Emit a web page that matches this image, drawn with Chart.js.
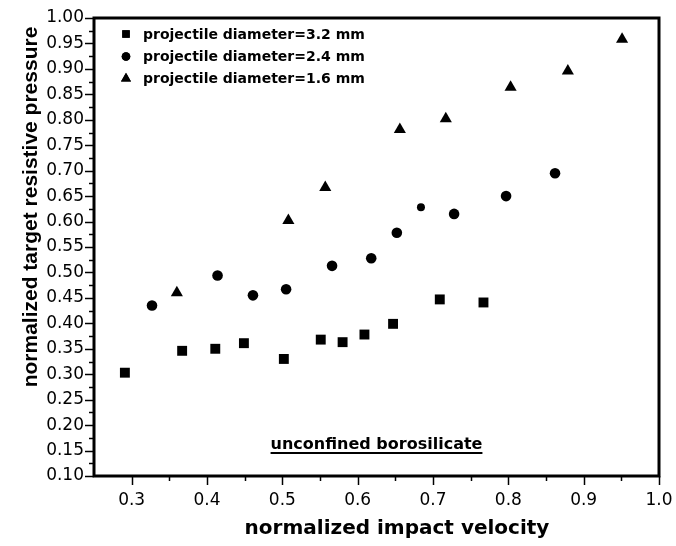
<!DOCTYPE html>
<html><head><meta charset="utf-8">
<script src="https://cdn.jsdelivr.net/npm/chart.js@4/dist/chart.umd.min.js"></script>
<style>html,body{margin:0;padding:0;background:#fff;}canvas{display:block;}</style>
</head><body>
<canvas id="c" width="676" height="546"></canvas>
<script>
// ---- data ----
const seriesLabels = ['projectile diameter=3.2 mm', 'projectile diameter=2.4 mm', 'projectile diameter=1.6 mm'];
const d32X = [0.291, 0.367, 0.411, 0.449, 0.502, 0.551, 0.580, 0.609, 0.647, 0.709, 0.767];
const d32Y = [0.303, 0.346, 0.350, 0.361, 0.330, 0.368, 0.363, 0.378, 0.399, 0.447, 0.441];
const d24X = [0.327, 0.414, 0.461, 0.505, 0.566, 0.618, 0.652, 0.684, 0.728, 0.797, 0.862];
const d24Y = [0.435, 0.494, 0.455, 0.467, 0.513, 0.528, 0.578, 0.628, 0.615, 0.650, 0.695];
const d16X = [0.360, 0.508, 0.557, 0.656, 0.717, 0.803, 0.879, 0.951];
const d16Y = [0.460, 0.602, 0.667, 0.781, 0.802, 0.864, 0.896, 0.958];
const xAxisTitle = 'normalized impact velocity';
const yAxisTitle = 'normalized target resistive pressure';
const annotationText = 'unconfined borosilicate';
const xMin = 0.25, xMax = 1.0, xStep = 0.05;
const yMin = 0.10, yMax = 1.00, yStep = 0.05;

const toPts = (xs, ys) => xs.map((x, i) => ({x: x, y: ys[i]}));

const TICK_FONT = {family: '"DejaVu Sans"', size: 17};

const decor = {
  id: 'decor',
  afterDraw(chart) {
    const ctx = chart.ctx;
    const a = chart.chartArea;
    const xs = chart.scales.x, ys = chart.scales.y;
    ctx.save();
    ctx.strokeStyle = '#000';
    ctx.fillStyle = '#000';
    // frame
    ctx.lineWidth = 3;
    ctx.strokeRect(a.left, a.top, a.right - a.left, a.bottom - a.top);
    // x ticks
    ctx.lineWidth = 1.5;
    xs.ticks.forEach(t => {
      const v = t.value;
      if (Math.abs(v - xMin) < 1e-9) return;
      const major = Math.abs(v * 10 - Math.round(v * 10)) < 1e-6;
      const p = Math.round(xs.getPixelForValue(v)) + 0.5;
      ctx.beginPath();
      ctx.moveTo(p, a.bottom);
      ctx.lineTo(p, a.bottom + (major ? 9 : 5));
      ctx.stroke();
    });
    // y ticks (major at labels, minor half-way)
    const yt = ys.ticks.map(t => t.value);
    yt.forEach((v, i) => {
      const p = Math.round(ys.getPixelForValue(v)) + 0.5;
      ctx.beginPath();
      ctx.moveTo(a.left, p);
      ctx.lineTo(a.left - 9, p);
      ctx.stroke();
      if (i < yt.length - 1) {
        const m = Math.round(ys.getPixelForValue((v + yt[i + 1]) / 2)) + 0.5;
        ctx.beginPath();
        ctx.moveTo(a.left, m);
        ctx.lineTo(a.left - 5, m);
        ctx.stroke();
      }
    });
    // axis titles
    ctx.font = 'bold 20px "DejaVu Sans"';
    ctx.textAlign = 'center';
    ctx.textBaseline = 'alphabetic';
    ctx.fillText(xAxisTitle, 397, 534);
    ctx.save();
    ctx.translate(37, 207);
    ctx.rotate(-Math.PI / 2);
    ctx.font = 'bold 21px "Liberation Sans"';
    ctx.fillText(yAxisTitle, 0, 0);
    ctx.restore();
    // annotation with underline
    ctx.font = 'bold 16px "DejaVu Sans"';
    const cx = (a.left + a.right) / 2;
    ctx.fillText(annotationText, cx, 449);
    const w = ctx.measureText(annotationText).width;
    ctx.fillRect(cx - w / 2, 452, w, 2);
    // legend
    const rows = [34, 56.5, 78.5];
    const legR = [5.3, 4.3, 5.8];
    ctx.textAlign = 'left';
    ctx.textBaseline = 'middle';
    ctx.font = 'bold 14px "DejaVu Sans"';
    chart.data.datasets.forEach((ds, i) => {
      Chart.helpers.drawPoint(ctx, {pointStyle: ds.pointStyle, radius: legR[i], borderWidth: 0, rotation: 0}, 126, rows[i]);
      ctx.fillStyle = '#000';
      ctx.fill();
      ctx.fillText(ds.label, 143, rows[i] + 1);
    });
    ctx.restore();
  }
};

new Chart(document.getElementById('c'), {
  type: 'scatter',
  data: {
    datasets: [
      {label: seriesLabels[0], data: toPts(d32X, d32Y), pointStyle: 'rect', pointRadius: 7,
       backgroundColor: '#000', borderWidth: 0},
      {label: seriesLabels[1], data: toPts(d24X, d24Y), pointStyle: 'circle',
       pointRadius: [5.3, 5.3, 5.3, 5.3, 5.3, 5.3, 5.3, 4, 5.3, 5.3, 5.3],
       backgroundColor: '#000', borderWidth: 0},
      {label: seriesLabels[2], data: toPts(d16X, d16Y), pointStyle: 'triangle', pointRadius: 7,
       backgroundColor: '#000', borderWidth: 0}
    ]
  },
  options: {
    responsive: false,
    animation: false,
    events: [],
    layout: {padding: {top: 18, right: 17, left: 0, bottom: 0}},
    plugins: {legend: {display: false}, tooltip: {enabled: false}},
    scales: {
      x: {
        type: 'linear', min: xMin, max: xMax,
        grid: {display: false, drawTicks: false},
        border: {display: false},
        afterFit: s => { s.height = 70; s.paddingLeft = 0; s.paddingRight = 0; },
        ticks: {
          stepSize: xStep, autoSkip: false, maxRotation: 0, color: '#000', font: TICK_FONT, padding: 14,
          callback: v => (Math.abs(v * 10 - Math.round(v * 10)) < 1e-6 ? v.toFixed(1) : '')
        }
      },
      y: {
        type: 'linear', min: yMin, max: yMax,
        grid: {display: false, drawTicks: false},
        border: {display: false},
        afterFit: s => { s.width = 94; s.paddingTop = 0; s.paddingBottom = 0; },
        ticks: {
          stepSize: yStep, autoSkip: false, color: '#000', font: TICK_FONT, padding: 10,
          callback: v => v.toFixed(2)
        }
      }
    }
  },
  plugins: [decor]
});
</script>
</body></html>
